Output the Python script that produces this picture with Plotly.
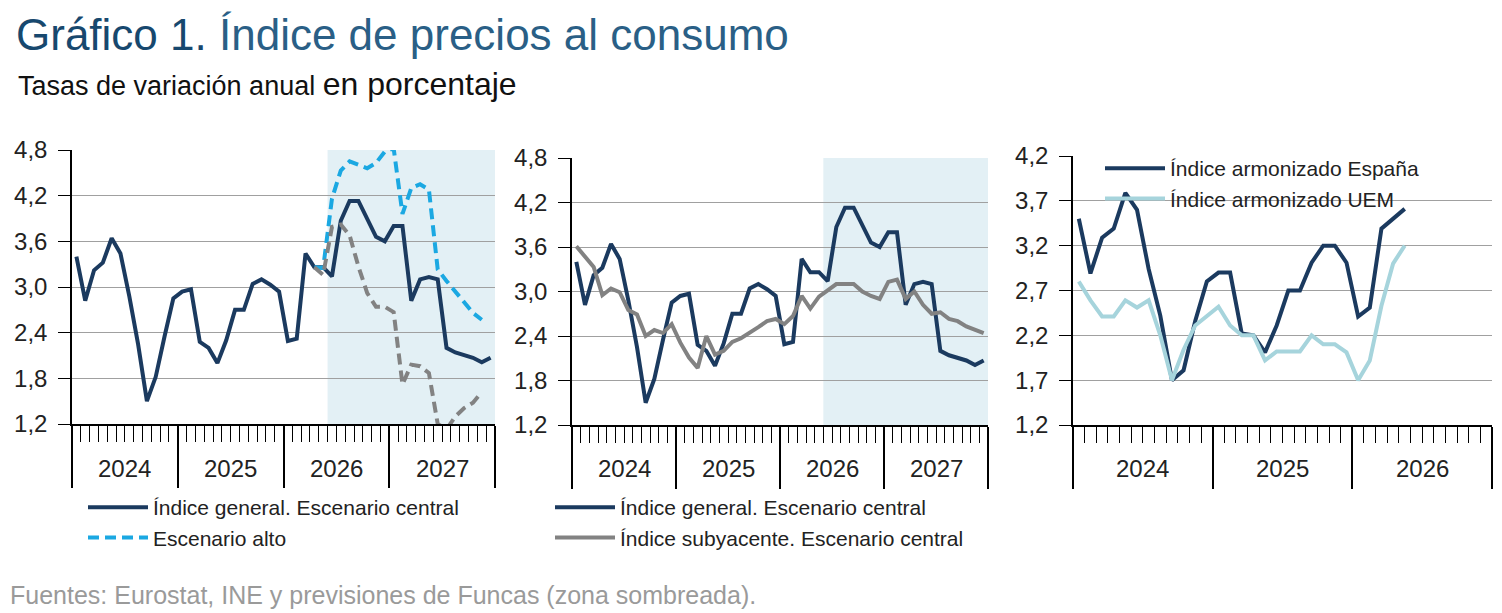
import plotly.graph_objects as go

# ---------- data ----------
years_p12 = ["2024", "2025", "2026", "2027"]
years_p3 = ["2024", "2025", "2026"]
general = [3.4, 2.82, 3.22, 3.32, 3.64, 3.44, 2.88, 2.25, 1.5, 1.82, 2.35, 2.85,
           2.94, 2.97, 2.28, 2.2, 2.0, 2.3, 2.7, 2.7, 3.04, 3.1, 3.03, 2.94,
           2.29, 2.32, 3.44, 3.26, 3.26, 3.14, 3.87, 4.13, 4.13, 3.9, 3.66, 3.6,
           3.8, 3.8, 2.82, 3.1, 3.13, 3.1, 2.2, 2.14, 2.11, 2.07, 2.01, 2.07]
alto = [None]*27 + [3.26, 3.25, 4.16, 4.53, 4.65, 4.6, 4.56, 4.63, 4.78, 4.82,
                    3.96, 4.3, 4.35, 4.28, 3.23, 3.08, 2.94, 2.79, 2.66, 2.57]
bajo = [None]*27 + [3.26, 3.16, 3.79, 3.82, 3.68, 3.27, 2.92, 2.74, 2.74, 2.67,
                    1.72, 1.98, 1.96, 1.87, 1.2, 1.13, 1.3, 1.41, 1.48, 1.62]
subyacente = [3.61, 3.47, 3.33, 2.95, 3.04, 2.99, 2.75, 2.69, 2.4, 2.48, 2.44, 2.56,
              2.31, 2.11, 1.97, 2.4, 2.15, 2.2, 2.32, 2.37, 2.44, 2.52, 2.6, 2.63,
              2.56, 2.67, 2.94, 2.77, 2.93, 3.02, 3.1, 3.1, 3.1, 3.0, 2.94, 2.9,
              3.13, 3.16, 2.9, 3.0, 2.82, 2.7, 2.72, 2.63, 2.6, 2.53, 2.48, 2.44]
ipca_es = [3.5, 2.89, 3.29, 3.39, 3.79, 3.6, 2.94, 2.42, 1.7, 1.81, 2.36, 2.8,
           2.9, 2.9, 2.22, 2.2, 2.01, 2.31, 2.7, 2.7, 3.01, 3.2, 3.2, 3.01,
           2.41, 2.51, 3.39, 3.5, 3.61]
ipca_uem = [2.8, 2.59, 2.41, 2.41, 2.59, 2.51, 2.59, 2.2, 1.7, 2.04, 2.31, 2.42,
            2.52, 2.31, 2.2, 2.2, 1.92, 2.02, 2.02, 2.02, 2.2, 2.1, 2.1, 2.01,
            1.7, 1.92, 2.53, 3.0, 3.2]
forecast_start = 28.5

NAVY = "#1b3a5f"
CYAN = "#1ba8e2"
GRAY = "#828282"
TEAL = "#a6d4dc"
SHADE = "#e3f0f5"
FONT = "Liberation Sans"
DASH = "11px,6px"

W, H = 1502, 613
OFF = 8  # page body margin
def dx(a, b): return [(a - OFF) / W, (b - OFF) / W]
def dy(top, bot): return [1 - (bot - OFF) / H, 1 - (top - OFF) / H]

fig = go.Figure()
m12 = list(range(48))
m3 = list(range(len(ipca_es)))

fig.add_trace(go.Scatter(x=m12, y=general, mode="lines", line=dict(color=NAVY, width=4),
                         name="Índice general. Escenario central", xaxis="x", yaxis="y", legend="legend"))
fig.add_trace(go.Scatter(x=m12, y=alto, mode="lines", line=dict(color=CYAN, width=4, dash=DASH),
                         name="Escenario alto", xaxis="x", yaxis="y", legend="legend"))
fig.add_trace(go.Scatter(x=m12, y=bajo, mode="lines", line=dict(color=GRAY, width=4, dash=DASH),
                         name="Escenario bajo", showlegend=False, xaxis="x", yaxis="y"))
fig.add_trace(go.Scatter(x=m12, y=general, mode="lines", line=dict(color=NAVY, width=4),
                         name="Índice general. Escenario central", xaxis="x2", yaxis="y2", legend="legend2"))
fig.add_trace(go.Scatter(x=m12, y=subyacente, mode="lines", line=dict(color=GRAY, width=4),
                         name="Índice subyacente. Escenario central", xaxis="x2", yaxis="y2", legend="legend2"))
fig.add_trace(go.Scatter(x=m3, y=ipca_es, mode="lines", line=dict(color=NAVY, width=4),
                         name="Índice armonizado España", xaxis="x3", yaxis="y3", legend="legend3"))
fig.add_trace(go.Scatter(x=m3, y=ipca_uem, mode="lines", line=dict(color=TEAL, width=4),
                         name="Índice armonizado UEM", xaxis="x3", yaxis="y3", legend="legend3"))

panels = [
    dict(n="", xd=dx(72, 495), yd=dy(150, 424), nm=48, years=years_p12, yr=[1.2, 4.8], dt=0.6),
    dict(n="2", xd=dx(572, 988), yd=dy(158, 425), nm=48, years=years_p12, yr=[1.2, 4.8], dt=0.6),
    dict(n="3", xd=dx(1073, 1492), yd=dy(156, 425), nm=36, years=years_p3, yr=[1.2, 4.2], dt=0.5),
]
layout = {}
annotations = []
shapes = []
for i, p in enumerate(panels):
    n = p["n"]
    rng = [-0.5, p["nm"] - 0.5]
    layout["xaxis" + n] = dict(domain=p["xd"], range=rng, anchor="y" + n, showgrid=False,
                               showline=True, linecolor="black", linewidth=1.5,
                               tickmode="array", tickvals=[-0.5 + 12 * k for k in range(len(p["years"]) + 1)],
                               ticks="outside", ticklen=62, tickcolor="black", tickwidth=1.5,
                               minor=dict(tickmode="array", tickvals=[k + 0.5 for k in range(p["nm"])],
                                          ticks="outside", ticklen=16, tickcolor="black", tickwidth=1.2,
                                          showgrid=False),
                               showticklabels=False, zeroline=False, fixedrange=True)
    layout["yaxis" + n] = dict(domain=p["yd"], range=p["yr"], dtick=p["dt"], tick0=1.2, anchor="x" + n,
                               tickformat=".1f", showgrid=True, gridcolor="#a0a0a0", gridwidth=1.3,
                               showline=True, linecolor="black", linewidth=1.5,
                               ticks="outside", ticklen=12, tickcolor="black", ticklabelstandoff=6,
                               tickfont=dict(size=24, color="#222"), zeroline=False, fixedrange=True)
    for k, yl in enumerate(p["years"]):
        annotations.append(dict(x=6 * (2 * k + 1) - 0.5, xref="x" + n, y=p["yd"][0] - 44 / H, yref="paper",
                                yanchor="middle", text=yl, showarrow=False,
                                font=dict(size=24, color="#222", family=FONT)))
    if i < 2:
        shapes.append(dict(type="rect", xref="x" + n, yref="y" + n + " domain", x0=forecast_start, x1=rng[1],
                           y0=0, y1=1, fillcolor=SHADE, line=dict(width=0), layer="below"))

legfont = dict(size=21, color="#222", family=FONT)
layout["legend"] = dict(x=75 / W, y=1 - 479 / H, xanchor="left", yanchor="top", bgcolor="rgba(0,0,0,0)",
                        font=legfont, tracegroupgap=0, itemwidth=60)
layout["legend2"] = dict(x=542 / W, y=1 - 479 / H, xanchor="left", yanchor="top", bgcolor="rgba(0,0,0,0)",
                         font=legfont, tracegroupgap=0, itemwidth=60)
layout["legend3"] = dict(x=1092 / W, y=1 - 140 / H, xanchor="left", yanchor="top", bgcolor="rgba(0,0,0,0)",
                         font=legfont, tracegroupgap=0, itemwidth=60)

annotations += [
    dict(x=6 / W, y=1 - 0 / H, xref="paper", yref="paper", xanchor="left", yanchor="top", showarrow=False,
         text="Gráfico 1. <span style='color:#2a5f86'>Índice de precios al consumo</span>",
         font=dict(size=44, color="#17486e", family=FONT)),
    dict(x=8 / W, y=1 - 56 / H, xref="paper", yref="paper", xanchor="left", yanchor="top", showarrow=False,
         text="Tasas de variación anual <span style='font-size:32px'>en porcentaje</span>",
         font=dict(size=27, color="#111", family=FONT)),
    dict(x=0, y=1 - 571 / H, xref="paper", yref="paper", xanchor="left", yanchor="top", showarrow=False,
         text="Fuentes: Eurostat, INE y previsiones de Funcas (zona sombreada).",
         font=dict(size=25, color="#9a9a9a", family=FONT)),
]

fig.update_layout(width=W, height=H, margin=dict(l=0, r=0, t=0, b=0, autoexpand=False), plot_bgcolor="white",
                  paper_bgcolor="white", separators=",.", font=dict(family=FONT),
                  annotations=annotations, shapes=shapes, **layout)
fig.write_html("out.html")
